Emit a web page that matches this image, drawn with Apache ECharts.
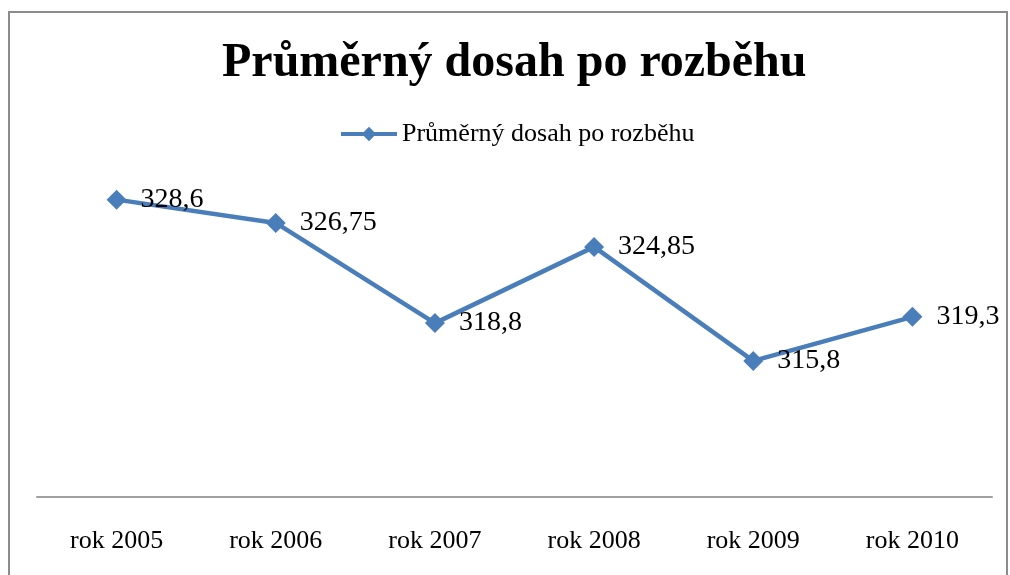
<!DOCTYPE html>
<html>
<head>
    <meta charset="utf-8" />
    <title>Průměrný dosah po rozběhu</title>
    <script src="https://cdn.jsdelivr.net/npm/echarts@6/dist/echarts.min.js"></script>
    <style>
        html, body { margin: 0; padding: 0; background: #ffffff; }
    </style>
</head>
<body>
<div id="main" style="width: 1010px;height:575px;"></div>
<script type="text/javascript">
    // data
    var years = ['rok 2005', 'rok 2006', 'rok 2007', 'rok 2008', 'rok 2009', 'rok 2010'];
    var dosah = [328.6, 326.75, 318.8, 324.85, 315.8, 319.3];
    var seriesName = 'Průměrný dosah po rozběhu';

    var serif = '"Liberation Serif", "DejaVu Serif", serif';
    var myChart = echarts.init(document.getElementById('main'));

    var option = {
        backgroundColor: '#ffffff',
        animation: false,
        title: {
            text: 'Průměrný dosah po rozběhu',
            left: 217,
            top: 35,
            textStyle: {
                fontFamily: serif,
                fontSize: 48,
                fontWeight: 'bold',
                color: '#000'
            }
        },
        legend: {
            top: 116,
            left: 334,
            itemWidth: 56,
            itemHeight: 18,
            itemGap: 4,
            lineStyle: { width: 4 },
            textStyle: { fontFamily: serif, fontSize: 26, color: '#000' },
            data: [seriesName]
        },
        grid: { left: 37, right: 18, top: 182, bottom: 78 },
        graphic: [{
            type: 'rect',
            shape: { x: 9, y: 12, width: 998, height: 620 },
            style: { fill: 'none', stroke: '#8c8c8c', lineWidth: 2 },
            z: -1
        }],
        xAxis: {
            type: 'category',
            data: years,
            boundaryGap: true,
            axisLine: { lineStyle: { color: '#a0a0a0', width: 2 } },
            axisTick: { show: false },
            axisLabel: { fontFamily: serif, fontSize: 26, color: '#000', margin: 31 }
        },
        yAxis: {
            type: 'value',
            min: 305,
            max: 330,
            show: false,
            splitLine: { show: false }
        },
        series: [{
            name: seriesName,
            type: 'line',
            data: dosah,
            symbol: 'diamond',
            symbolSize: 20,
            color: '#4a7ebb',
            lineStyle: { width: 4.5, color: '#4a7ebb' },
            label: {
                show: true,
                position: 'right',
                distance: 14,
                fontFamily: serif,
                fontSize: 28,
                color: '#000',
                formatter: function (p) { return String(p.value).replace('.', ','); }
            }
        }]
    };
    myChart.setOption(option);
</script>
</body>
</html>
